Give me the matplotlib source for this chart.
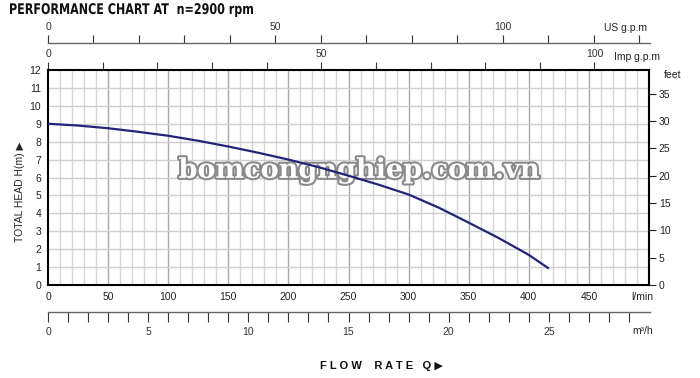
import matplotlib
matplotlib.use("Agg")
import numpy as np
import matplotlib.pyplot as plt
import matplotlib.patheffects as pe
from matplotlib.textpath import TextPath
from matplotlib.patches import PathPatch
from matplotlib.font_manager import FontProperties
from matplotlib.transforms import Affine2D

plt.rcParams['font.family'] = ['Liberation Sans', 'DejaVu Sans']

# pump curve: flow in l/min, head in m
flow_lpm = [0, 25, 50, 75, 100, 125, 150, 175, 200, 225, 250, 275, 300, 325, 350, 375, 400, 416]
head_m = [9.0, 8.9, 8.75, 8.55, 8.33, 8.05, 7.73, 7.38, 7.0, 6.58, 6.1, 5.6, 5.05, 4.32, 3.48, 2.62, 1.68, 0.95]

lpm_ticks = [0, 50, 100, 150, 200, 250, 300, 350, 400, 450]
head_ticks = list(range(0, 13))
feet_ticks = [0, 5, 10, 15, 20, 25, 30, 35]
m3h_ticks = list(range(0, 30))
m3h_labels = [0, 5, 10, 15, 20, 25]
usgpm_ticks = list(range(0, 140, 10))
usgpm_labels = [0, 50, 100]
impgpm_ticks = list(range(0, 110, 10))
impgpm_labels = [0, 50, 100]

LPM_PER_USG = 3.785
LPM_PER_IMPG = 4.546
FT_PER_M = 3.2808

W, H = 700, 378
fig = plt.figure(figsize=(7, 3.78), dpi=100)


def fx(px):
    return px / W


def fy(py):
    return 1 - py / H


left, right, top, bottom = 48, 649, 70, 285
ax = fig.add_axes([fx(left), fy(bottom), fx(right - left), (bottom - top) / H])
ax.set_xlim(0, 500)
ax.set_ylim(0, 12)

# grid: minor every 10 l/min, major every 50, horizontal every 1 m
for v in range(10, 500, 10):
    c = '#a8a8a8' if v % 50 == 0 else '#d6d6d6'
    ax.axvline(v, color=c, lw=1.0, zorder=1)
for h in range(1, 12):
    ax.axhline(h, color='#cfcfcf', lw=1.0, zorder=1)

ax.plot(flow_lpm, head_m, color='#23237a', lw=1.6, zorder=4)

for s in ax.spines.values():
    s.set_linewidth(1.5)
    s.set_color('black')

ax.set_xticks(lpm_ticks)
ax.set_xticklabels([str(v) for v in lpm_ticks])
ax.set_yticks(head_ticks)
ax.tick_params(axis='both', length=0, labelsize=7.5, colors='#222222')
ax.tick_params(axis='y', pad=5)
ax.tick_params(axis='x', pad=5)

# right-hand feet scale
axr = ax.twinx()
axr.set_ylim(0, 12 * FT_PER_M)
axr.set_yticks(feet_ticks)
axr.tick_params(axis='y', length=5, width=0.8, direction='out', labelsize=7.5, pad=2, colors='#222222')
for s in axr.spines.values():
    s.set_visible(False)

# Imp g.p.m scale on the frame top
sec_imp = ax.secondary_xaxis('top', functions=(lambda x: x / LPM_PER_IMPG, lambda x: x * LPM_PER_IMPG))
sec_imp.set_xticks(impgpm_ticks)
sec_imp.set_xticklabels([str(v) if v in impgpm_labels else '' for v in impgpm_ticks])
sec_imp.tick_params(length=6, width=0.8, direction='out', labelsize=7.5, pad=2, colors='#333333')
sec_imp.spines['top'].set_visible(False)

# US g.p.m scale above
ax_us = fig.add_axes([fx(left), fy(42.7), fx(650 - left), 0.0001])
ax_us.set_xlim(0, 500 / LPM_PER_USG * (650 - left) / (right - left))
ax_us.set_ylim(0, 1)
ax_us.xaxis.tick_top()
ax_us.set_xticks(usgpm_ticks)
ax_us.set_xticklabels([str(v) if v in usgpm_labels else '' for v in usgpm_ticks])
ax_us.tick_params(axis='x', length=6, width=0.8, direction='out', labelsize=7.5, pad=2, colors='#333333')
ax_us.set_yticks([])
for k in ['left', 'right', 'bottom']:
    ax_us.spines[k].set_visible(False)
ax_us.spines['top'].set_color('#666666')
ax_us.spines['top'].set_linewidth(1.0)
ax_us.patch.set_visible(False)

# m3/h scale below
ax_m3 = fig.add_axes([fx(left), fy(311.7), fx(650 - left), 0.0001])
ax_m3.set_xlim(0, 500 * 0.06 * (650 - left) / (right - left))
ax_m3.set_ylim(0, 1)
ax_m3.set_xticks(m3h_ticks)
ax_m3.set_xticklabels([str(v) if v in m3h_labels else '' for v in m3h_ticks])
ax_m3.tick_params(axis='x', length=7, width=0.8, direction='out', labelsize=7.5, pad=4, colors='#333333')
ax_m3.set_yticks([])
for k in ['left', 'right', 'top']:
    ax_m3.spines[k].set_visible(False)
ax_m3.spines['bottom'].set_color('#666666')
ax_m3.spines['bottom'].set_linewidth(1.0)
ax_m3.patch.set_visible(False)

# unit labels
fig.text(fx(626), fy(28), 'US g.p.m', fontsize=7.5, ha='center', va='center', color='#222222')
fig.text(fx(637), fy(57), 'Imp g.p.m', fontsize=7.5, ha='center', va='center', color='#222222')
fig.text(fx(673), fy(75), 'feet', fontsize=7.5, ha='center', va='center', color='#222222')
fig.text(fx(642), fy(297), 'l/min', fontsize=7.5, ha='center', va='center', color='#222222')
fig.text(fx(643), fy(331), 'm\u00b3/h', fontsize=7.5, ha='center', va='center', color='#222222')

# condensed bold title: squeeze a text path horizontally
title = 'PERFORMANCE CHART AT  n=2900 rpm'
tp = TextPath((0, 0), title, size=14.7, prop=FontProperties(family='DejaVu Sans', weight='bold'))
ext = tp.get_extents()
sx = 243 / ext.width
tr = Affine2D().translate(-ext.x0, 0).scale(sx, 1).translate(10, H - 14)
fig.add_artist(PathPatch(tp, transform=tr, facecolor='#111111', edgecolor='none'))

fig.text(fx(20), fy(192), 'TOTAL HEAD H(m) \u25b6', fontsize=7.5, rotation=90,
         ha='center', va='center', color='#222222')
fig.text(fx(381), fy(366), 'F L O W    R A T E   Q \u25b6', fontsize=8, fontweight='bold',
         ha='center', va='center', color='#111111')

# watermark
ax.text(259, 6.4, 'bomcongnghiep.com.vn', fontsize=19.5, fontweight='bold', family='DejaVu Serif',
        color='white', ha='center', va='center', zorder=3,
        path_effects=[pe.withStroke(linewidth=3, foreground='#8a8a8a')])

fig.savefig('out.png', dpi=100)
